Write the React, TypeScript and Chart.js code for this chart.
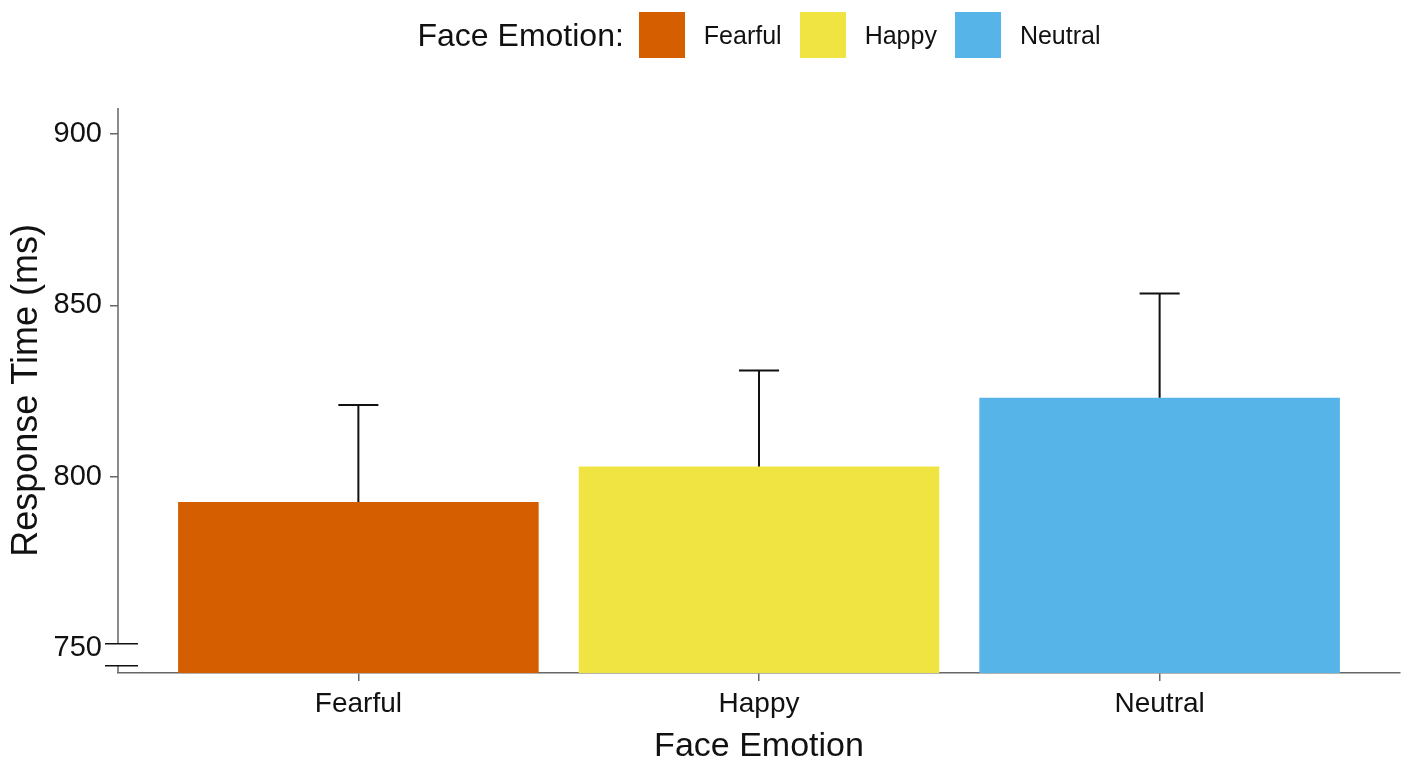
import React, { useEffect, useRef } from 'react';
import { Chart, registerables } from 'chart.js';

Chart.register(...registerables);

// data
const emotions = ['Fearful', 'Happy', 'Neutral'];
const meanRT = [792.7, 803.0, 823.1];
const errRT = [28.3, 28.0, 30.4];
const emotionColors = ['#D55E00', '#F0E442', '#56B4E9'];
const yTicks = [750, 800, 850, 900];
const yMin = 742.8;
const yMax = 907.6;
const breakValue = 750;

const AXIS_COLOR = '#666666';
const TEXT_COLOR = '#111111';

// upward error bars (mean -> mean + err) with a cap
const errorBarPlugin = {
  id: 'errorBars',
  afterDatasetsDraw(chart: any) {
    const { ctx, scales } = chart;
    const xs = scales.x;
    const ys = scales.y;
    ctx.save();
    ctx.strokeStyle = TEXT_COLOR;
    ctx.lineWidth = 2;
    meanRT.forEach((m, i) => {
      const x = xs.getPixelForValue(i);
      const y1 = ys.getPixelForValue(m);
      const y2 = ys.getPixelForValue(m + errRT[i]);
      const xl = xs.getPixelForValue(i - 0.05);
      const xr = xs.getPixelForValue(i + 0.05);
      ctx.beginPath();
      ctx.moveTo(x, y1);
      ctx.lineTo(x, y2);
      ctx.moveTo(xl, y2);
      ctx.lineTo(xr, y2);
      ctx.stroke();
    });
    ctx.restore();
  }
};

// y axis line with a break mark around the lowest tick
const axisBreakPlugin = {
  id: 'axisBreak',
  afterDraw(chart: any) {
    const { ctx, chartArea, scales } = chart;
    const x = chartArea.left;
    const yb = scales.y.getPixelForValue(breakValue);
    const gapTop = yb - 4.5;
    const gapBottom = yb + 17.5;
    ctx.save();
    ctx.strokeStyle = AXIS_COLOR;
    ctx.lineWidth = 1.5;
    ctx.beginPath();
    ctx.moveTo(x, chartArea.top);
    ctx.lineTo(x, gapTop);
    ctx.moveTo(x, gapBottom);
    ctx.lineTo(x, chartArea.bottom);
    ctx.stroke();
    ctx.strokeStyle = TEXT_COLOR;
    ctx.beginPath();
    ctx.moveTo(x - 13, gapTop);
    ctx.lineTo(x + 20, gapTop);
    ctx.moveTo(x - 13, gapBottom);
    ctx.lineTo(x + 20, gapBottom);
    ctx.stroke();
    ctx.restore();
  }
};

const FONT = "'Liberation Sans', Arial, sans-serif";

const App: React.FC = () => {
  const canvasRef = useRef<HTMLCanvasElement>(null);

  useEffect(() => {
    if (!canvasRef.current) return;
    Chart.defaults.font.family = FONT;
    Chart.defaults.color = TEXT_COLOR;

    const chart = new Chart(canvasRef.current, {
      type: 'bar',
      data: {
        datasets: [{
          label: 'Response Time',
          data: meanRT.map((v, i) => ({ x: i, y: v })) as any,
          backgroundColor: emotionColors,
          borderWidth: 0,
          categoryPercentage: 0.9,
          barPercentage: 1.0
        }]
      },
      options: {
        animation: false,
        responsive: true,
        maintainAspectRatio: false,
        layout: { padding: { left: 0, top: 108, right: 15, bottom: 0 } },
        plugins: {
          legend: { display: false },
          tooltip: { enabled: false }
        },
        scales: {
          x: {
            type: 'linear',
            min: -0.6,
            max: 2.6,
            offset: false,
            afterBuildTicks: (s: any) => { s.ticks = emotions.map((_, i) => ({ value: i })); },
            afterFit: (s: any) => { s.height = 98; },
            ticks: {
              callback: (v: any) => emotions[v] ?? '',
              font: { size: 28 },
              color: TEXT_COLOR,
              padding: 6,
              maxRotation: 0,
              autoSkip: false
            },
            grid: { drawOnChartArea: false, drawTicks: true, tickLength: 8, color: AXIS_COLOR, lineWidth: 1.5, offset: false },
            border: { display: true, color: AXIS_COLOR, width: 1.5 },
            title: { display: true, text: 'Face Emotion', font: { size: 34 }, color: TEXT_COLOR, padding: { top: 0, bottom: 4 } }
          },
          y: {
            min: yMin,
            max: yMax,
            beginAtZero: false,
            afterBuildTicks: (s: any) => { s.ticks = yTicks.map(v => ({ value: v })); },
            afterFit: (s: any) => { s.width = 118; },
            ticks: { font: { size: 29 }, color: TEXT_COLOR, padding: 8 },
            grid: {
              drawOnChartArea: false,
              drawTicks: true,
              tickLength: 8,
              lineWidth: 1.5,
              color: (c: any) => (c.tick && c.tick.value === breakValue ? 'rgba(0,0,0,0)' : AXIS_COLOR)
            },
            border: { display: false },
            title: { display: true, text: 'Response Time (ms)', font: { size: 36 }, color: TEXT_COLOR, padding: { top: 5, bottom: 0 } }
          }
        }
      },
      plugins: [errorBarPlugin, axisBreakPlugin]
    });

    return () => chart.destroy();
  }, []);

  return (
    <div style={{ position: 'fixed', left: 0, top: 0, width: 1415, height: 771, background: '#fff', fontFamily: FONT }}>
      <div style={{ position: 'absolute', left: 118, top: 12, width: 1282, height: 46, display: 'flex', justifyContent: 'center', alignItems: 'center', color: TEXT_COLOR }}>
        <span style={{ fontSize: 32, marginRight: 15 }}>Face Emotion:</span>
        {emotions.map((e, i) => (
          <React.Fragment key={e}>
            <span style={{ display: 'inline-block', width: 46, height: 46, background: emotionColors[i], marginRight: 19 }} />
            <span style={{ fontSize: 25, marginRight: i < emotions.length - 1 ? 18 : 0 }}>{e}</span>
          </React.Fragment>
        ))}
      </div>
      <canvas ref={canvasRef}></canvas>
    </div>
  );
};

export default App;
